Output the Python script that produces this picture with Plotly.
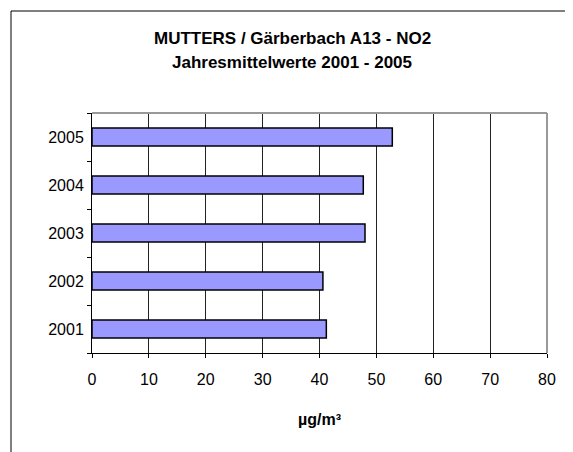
import plotly.graph_objects as go

# Jahresmittelwerte NO2 (µg/m³), Messstelle Mutters / Gärberbach A13
jahre = ["2001", "2002", "2003", "2004", "2005"]
werte = [41.2, 40.6, 48.0, 47.7, 52.8]

x_ticks = [0, 10, 20, 30, 40, 50, 60, 70, 80]

BAR_COLOR = "#9999FF"
FONT = "Liberation Sans, Arial, sans-serif"

fig = go.Figure()

fig.add_trace(
    go.Bar(
        y=jahre,
        x=werte,
        orientation="h",
        marker_color=BAR_COLOR,
        marker_line_color="#000000",
        marker_line_width=1.5,
        width=0.37,
    )
)

fig.update_xaxes(
    range=[0, 80],
    tickvals=x_ticks,
    showgrid=True,
    gridcolor="#222222",
    gridwidth=1,
    showline=True,
    linecolor="#000000",
    linewidth=1,
    ticks="outside",
    ticklen=4,
    tickcolor="#000000",
    tickfont_size=16,
    tickfont_color="#000000",
    ticklabelstandoff=8,
    zeroline=False,
    title_text="<b>µg/m³</b>",
    title_font_size=16,
    title_standoff=26,
)

fig.update_yaxes(
    showgrid=False,
    showline=True,
    linecolor="#000000",
    linewidth=1,
    ticks="outside",
    tickson="boundaries",
    ticklen=4,
    tickcolor="#000000",
    tickfont_size=16,
    tickfont_color="#000000",
    ticklabelstandoff=4,
)

# Rahmen um das Diagramm und grauer Rand der Zeichenfläche
shapes = [
    dict(type="rect", xref="paper", yref="paper", x0=-0.178, x1=1.2, y0=-0.6, y1=1.425,
         line=dict(color="#000000", width=1), fillcolor="rgba(0,0,0,0)", layer="below"),
    dict(type="line", xref="paper", yref="paper", x0=0, x1=1, y0=1, y1=1,
         line=dict(color="#999999", width=2)),
    dict(type="line", xref="paper", yref="paper", x0=1, x1=1, y0=0, y1=1,
         line=dict(color="#999999", width=2)),
]

# Die Seite hat 8 px Rand, daher ist die Figur etwas kleiner
fig.update_layout(
    width=565,
    height=444,
    margin=dict(l=84, r=26, t=105, b=99),
    paper_bgcolor="#FFFFFF",
    plot_bgcolor="#FFFFFF",
    font_family=FONT,
    font_color="#000000",
    showlegend=False,
    bargap=0.63,
    shapes=shapes,
    annotations=[
        dict(
            x=0.44, y=1.312, xref="paper", yref="paper", xanchor="center", yanchor="middle",
            text="<b>MUTTERS / Gärberbach A13 - NO2</b>", showarrow=False,
            font_size=17,
        ),
        dict(
            x=0.44, y=1.212, xref="paper", yref="paper", xanchor="center", yanchor="middle",
            text="<b>Jahresmittelwerte 2001 - 2005</b>", showarrow=False,
            font_size=17,
        ),
    ],
)

fig.write_html("out.html")
